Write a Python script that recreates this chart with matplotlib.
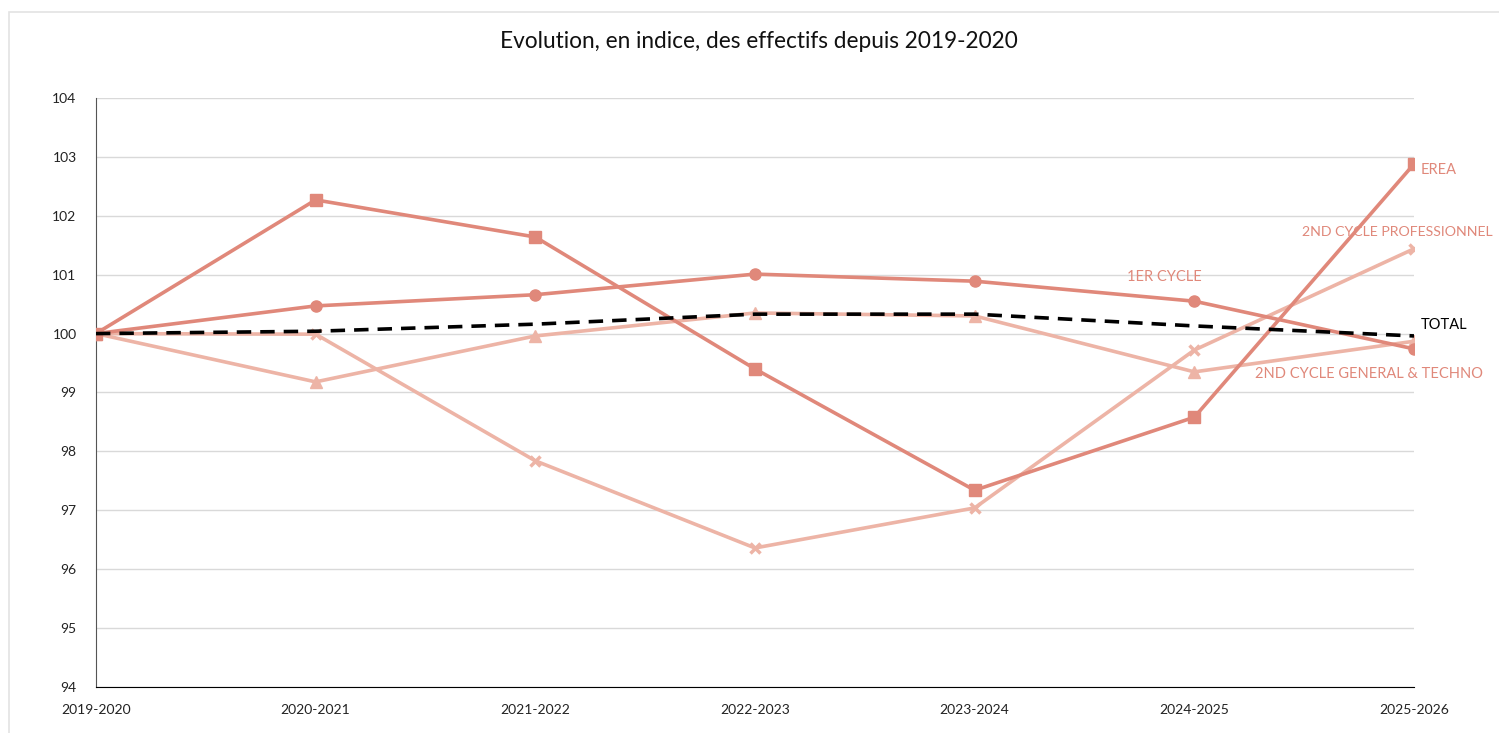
import matplotlib.pyplot as plt
from matplotlib.patches import Rectangle

years = ["2019-2020", "2020-2021", "2021-2022", "2022-2023",
         "2023-2024", "2024-2025", "2025-2026"]

erea = [100, 102.27, 101.64, 99.40, 97.34, 98.58, 102.88]
premier_cycle = [100, 100.47, 100.66, 101.01, 100.89, 100.55, 99.74]
gen_techno = [100, 99.18, 99.96, 100.35, 100.30, 99.35, 99.87]
pro = [100, 99.99, 97.84, 96.36, 97.04, 99.72, 101.44]
total = [100, 100.04, 100.16, 100.33, 100.33, 100.13, 99.96]

dark = "#e0887a"
light = "#edb4a6"

plt.rcParams["font.family"] = ["Lato", "DejaVu Sans"]

fig = plt.figure(figsize=(14.99, 7.33), dpi=100)
ax = fig.add_axes([0.064, 0.0628, 0.8793, 0.8035])

# light frame around the chart
fig.patches.append(Rectangle((9 / 1499, -0.01), 1.0, (733 - 12) / 733 + 0.01,
                             transform=fig.transFigure, fill=False,
                             edgecolor="#e3e3e3", lw=1.2))

x = list(range(len(years)))

ax.plot(x, pro, color=light, lw=2.6, marker="x", ms=7, mew=2.5, zorder=3)
ax.plot(x, gen_techno, color=light, lw=2.6, marker="^", ms=8, zorder=3)
ax.plot(x, erea, color=dark, lw=2.6, marker="s", ms=8, zorder=4)
ax.plot(x, premier_cycle, color=dark, lw=2.6, marker="o", ms=8, zorder=4)
ax.plot(x, total, color="black", lw=2.6, ls=(0, (4, 2.5)), zorder=5)

# series labels
lab = dict(fontsize=10.5, va="center", ha="left", clip_on=False)
ax.text(6.03, 102.78, "EREA", color=dark, **lab)
ax.text(5.49, 101.725, "2ND CYCLE PROFESSIONNEL", color=dark,
        fontsize=10.2, va="center", ha="left", clip_on=False)
ax.text(4.693, 100.96, "1ER CYCLE", color=dark, **lab)
ax.text(6.03, 100.15, "TOTAL", color="black", **lab)
ax.text(5.276, 99.31, "2ND CYCLE GENERAL & TECHNO", color=dark, **lab)

ax.set_xlim(0, 6)
ax.set_ylim(94, 104)
ax.set_yticks(range(94, 105))
ax.set_xticks(x)
ax.set_xticklabels(years)
ax.tick_params(axis="both", length=0, labelsize=10, colors="#222222")
ax.tick_params(axis="x", pad=12)
ax.tick_params(axis="y", pad=14)
ax.grid(axis="y", color="#d9d9d9", lw=1)
ax.set_axisbelow(True)

for side in ["top", "right"]:
    ax.spines[side].set_visible(False)
ax.spines["left"].set_color("#555555")
ax.spines["bottom"].set_color("black")

fig.text(0.506, 0.943, "Evolution, en indice, des effectifs depuis 2019-2020",
         ha="center", va="center", fontsize=16.3, color="#111111")

fig.savefig("out.png", dpi=100)
